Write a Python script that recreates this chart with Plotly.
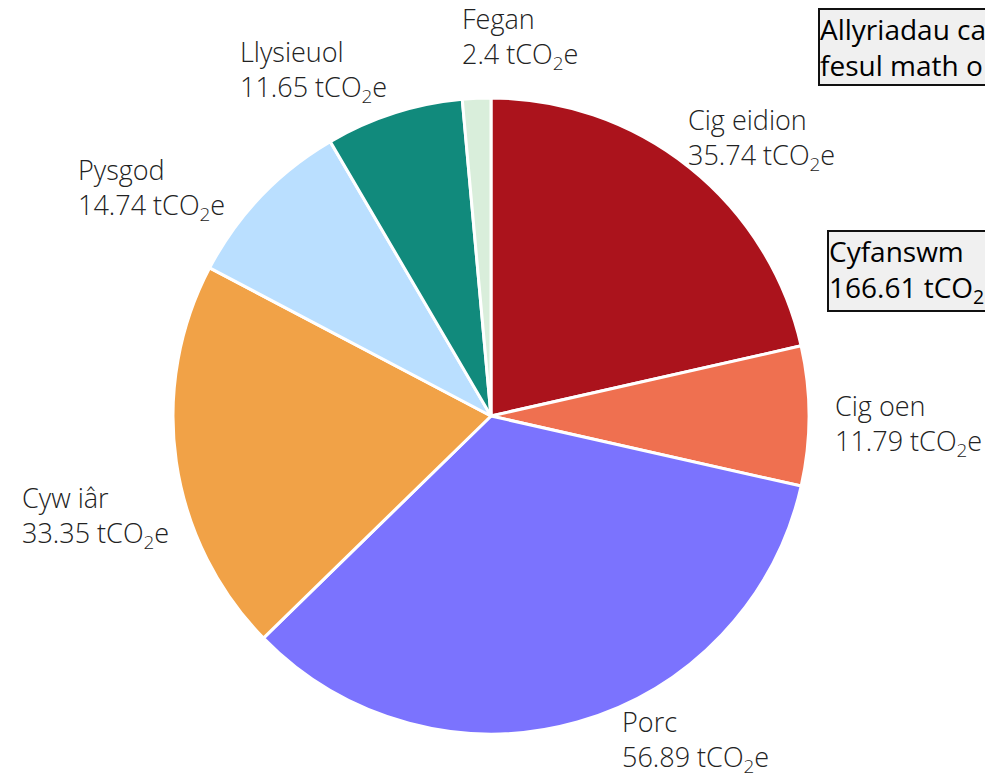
import math
import plotly.graph_objects as go

categories = ["Cig eidion", "Cig oen", "Porc", "Cyw iâr", "Pysgod", "Llysieuol", "Fegan"]
emissions = [35.74, 11.79, 56.89, 33.35, 14.74, 11.65, 2.4]
colors = ["#AB131C", "#EF7050", "#7B73FE", "#F1A247", "#BADFFF", "#118A7C", "#D9EEDB"]
total_label = "166.61"
unit = "tCO<sub>2</sub>e"
title_text = "Allyriadau carbon<br>fesul math o fwyd"

W, H = 985, 778
FONT = "Open Sans"

# pie geometry in pixels (centre and radius)
CX, CY, R = 491, 416, 318

# label placement: offset (px) of each label's left edge / vertical middle
# from the point where the slice's mid-angle meets the rim
label_offsets = [(-3, -29), (24, 9), (42, 19), (-156, 55), (-185, -7), (-156, -42), (-17, -60)]

fig = go.Figure(
    go.Pie(
        labels=categories,
        values=emissions,
        textinfo="none",
        sort=False,
        direction="clockwise",
        rotation=0,
        marker=dict(colors=colors, line=dict(color="white", width=3)),
        domain=dict(x=[(CX - R) / W, (CX + R) / W], y=[1 - (CY + R) / H, 1 - (CY - R) / H]),
        showlegend=False,
        hoverinfo="label+value",
    )
)

# slice labels, positioned from each slice's mid-angle
total = sum(emissions)
cum = 0.0
for cat, val, (dx, dy) in zip(categories, emissions, label_offsets):
    mid = (cum + val / 2) / total * 2 * math.pi
    cum += val
    px = CX + R * math.sin(mid) + dx
    py = CY - R * math.cos(mid) + dy
    fig.add_annotation(
        text=f"{cat}<br>{val} {unit}",
        xref="paper", yref="paper",
        x=px / W, y=1 - py / H,
        xanchor="left", yanchor="middle",
        align="left",
        showarrow=False,
        font=dict(family=FONT, size=27, color="#222222", weight=300),
    )

box_style = dict(
    xref="paper", yref="paper",
    xanchor="left", yanchor="top",
    align="left",
    showarrow=False,
    font=dict(family=FONT, size=28, color="black"),
    bgcolor="#F0F0F0",
    bordercolor="#111111",
    borderwidth=2,
    borderpad=0,
)

fig.add_annotation(text=title_text, x=818 / W, y=1 - 8 / H, **box_style)
fig.add_annotation(
    text=f"Cyfanswm<br>{total_label} {unit}", x=827 / W, y=1 - 230 / H, **box_style
)

fig.update_layout(
    width=W,
    height=H,
    autosize=False,
    margin=dict(l=0, r=0, t=0, b=0),
    paper_bgcolor="white",
    plot_bgcolor="white",
    font=dict(family=FONT),
)

fig.write_html("out.html")
